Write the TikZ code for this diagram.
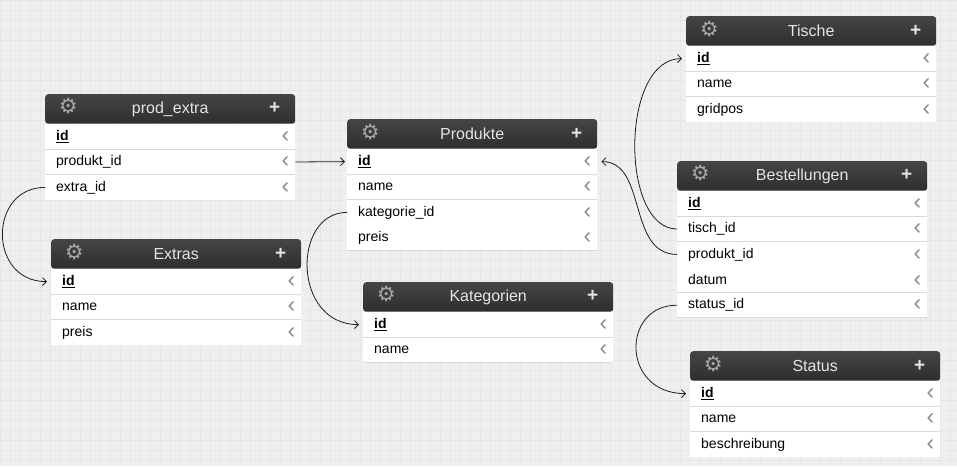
\documentclass[tikz,border=0pt]{standalone}
\usepackage{fontspec}
\setmainfont{Liberation Sans}
\newfontfamily\symfont{DejaVu Sans}
\usetikzlibrary{positioning,arrows.meta}

\definecolor{paper}{HTML}{EFEFEF}
\definecolor{gridcol}{HTML}{E6E6E6}
\definecolor{headtop}{HTML}{454545}
\definecolor{headbot}{HTML}{2E2E2E}
\definecolor{headtxt}{HTML}{E4E4E4}
\definecolor{iconcol}{HTML}{A6A6A6}
\definecolor{rowline}{HTML}{DADADA}
\definecolor{chevcol}{HTML}{8C8C8C}
\definecolor{linkcol}{HTML}{1E1E1E}

% header text: gear, title, plus
\newcommand{\headtext}[1]{\makebox[26pt][c]{\smash{\color{iconcol}\symfont\fontsize{21}{16}\selectfont ⚙}}\hfill#1\hfill\makebox[26pt][r]{\smash{\fontsize{19}{16}\selectfont\bfseries +}\hspace{5pt}}}
% little chevron at the right end of a row
\newcommand{\chev}{\hfill\llap{\smash{\raisebox{-2pt}{\color{chevcol}\fontsize{23}{16}\selectfont ‹}}\hspace{-5pt}}}

\tikzset{
  tblhead/.style={anchor=north west, minimum height=29.5, text width=230, inner xsep=10, inner ysep=0,
    top color=headtop, bottom color=headbot, rounded corners=3pt, text=headtxt, align=center,
    font=\fontsize{16}{18}\selectfont},
  tblrow/.style={fill=white, minimum height=25, text width=228, inner xsep=11, inner ysep=0,
    align=left, font=\fontsize{14}{16}\selectfont,
    path picture={\draw[rowline, line width=0.8pt] (path picture bounding box.south west) -- (path picture bounding box.south east);}},
  link/.style={->, linkcol, thick, shorten >=4pt}
}

\begin{document}
\begin{tikzpicture}[x=1pt, y=-1pt, >={Straight Barb[length=4pt,width=8pt]}]
\useasboundingbox (0,0) rectangle (957,466);
\fill[paper] (0,0) rectangle (957,466);
\draw[gridcol, line width=0.4pt, step=10pt] (0,0) grid (957,466);

% prod_extra
\node[tblhead] (prodextra) at (45,94) {\headtext{prod\_extra}};
\node[tblrow, below=0pt of prodextra] (prodextra-id) {\textbf{\underline{id}}\chev};
\node[tblrow, below=0pt of prodextra-id] (prodextra-produkt) {produkt\_id\chev};
\node[tblrow, below=0pt of prodextra-produkt] (prodextra-extra) {extra\_id\chev};

% Extras
\node[tblhead] (extras) at (51,239) {\headtext{Extras}};
\node[tblrow, below=0pt of extras] (extras-id) {\textbf{\underline{id}}\chev};
\node[tblrow, below=0pt of extras-id] (extras-name) {name\chev};
\node[tblrow, below=0pt of extras-name] (extras-preis) {preis\chev};

% Produkte
\node[tblhead] (produkte) at (347,119) {\headtext{Produkte}};
\node[tblrow, below=0pt of produkte] (produkte-id) {\textbf{\underline{id}}\chev};
\node[tblrow, below=0pt of produkte-id] (produkte-name) {name\chev};
\node[tblrow, below=0pt of produkte-name] (produkte-kategorie) {kategorie\_id\chev};
\node[tblrow, below=0pt of produkte-kategorie] (produkte-preis) {preis\chev};

% Kategorien
\node[tblhead] (kategorien) at (363,282) {\headtext{Kategorien}};
\node[tblrow, below=0pt of kategorien] (kategorien-id) {\textbf{\underline{id}}\chev};
\node[tblrow, below=0pt of kategorien-id] (kategorien-name) {name\chev};

% Tische
\node[tblhead] (tische) at (686,16) {\headtext{Tische}};
\node[tblrow, below=0pt of tische] (tische-id) {\textbf{\underline{id}}\chev};
\node[tblrow, below=0pt of tische-id] (tische-name) {name\chev};
\node[tblrow, below=0pt of tische-name] (tische-gridpos) {gridpos\chev};

% Bestellungen
\node[tblhead] (bestellungen) at (677,161) {\headtext{Bestellungen}};
\node[tblrow, below=0pt of bestellungen] (bestellungen-id) {\textbf{\underline{id}}\chev};
\node[tblrow, below=0pt of bestellungen-id] (bestellungen-tisch) {tisch\_id\chev};
\node[tblrow, below=0pt of bestellungen-tisch] (bestellungen-produkt) {produkt\_id\chev};
\node[tblrow, below=0pt of bestellungen-produkt] (bestellungen-datum) {datum\chev};
\node[tblrow, below=0pt of bestellungen-datum] (bestellungen-status) {status\_id\chev};

% Status
\node[tblhead] (status) at (690,351) {\headtext{Status}};
\node[tblrow, below=0pt of status] (status-id) {\textbf{\underline{id}}\chev};
\node[tblrow, below=0pt of status-id] (status-name) {name\chev};
\node[tblrow, below=0pt of status-name] (status-beschreibung) {beschreibung\chev};

% foreign keys
\draw[link] (prodextra-extra.west) .. controls +(-57,0) and +(-63,0) .. (extras-id.west);
\draw[link, shorten >=2pt] (prodextra-produkt.east) -- (produkte-id.west);
\draw[link] (produkte-kategorie.west) .. controls +(-55,0) and +(-71,0) .. (kategorien-id.west);
\draw[link] (bestellungen-tisch.west) .. controls +(-57,0) and +(-66,0) .. (tische-id.west);
\draw[link] (bestellungen-produkt.west) .. controls +(-50,0) and +(50,0) .. (produkte-id.east);
\draw[link] (bestellungen-status.west) .. controls +(-56,0) and +(-69,0) .. (status-id.west);
\end{tikzpicture}
\end{document}
